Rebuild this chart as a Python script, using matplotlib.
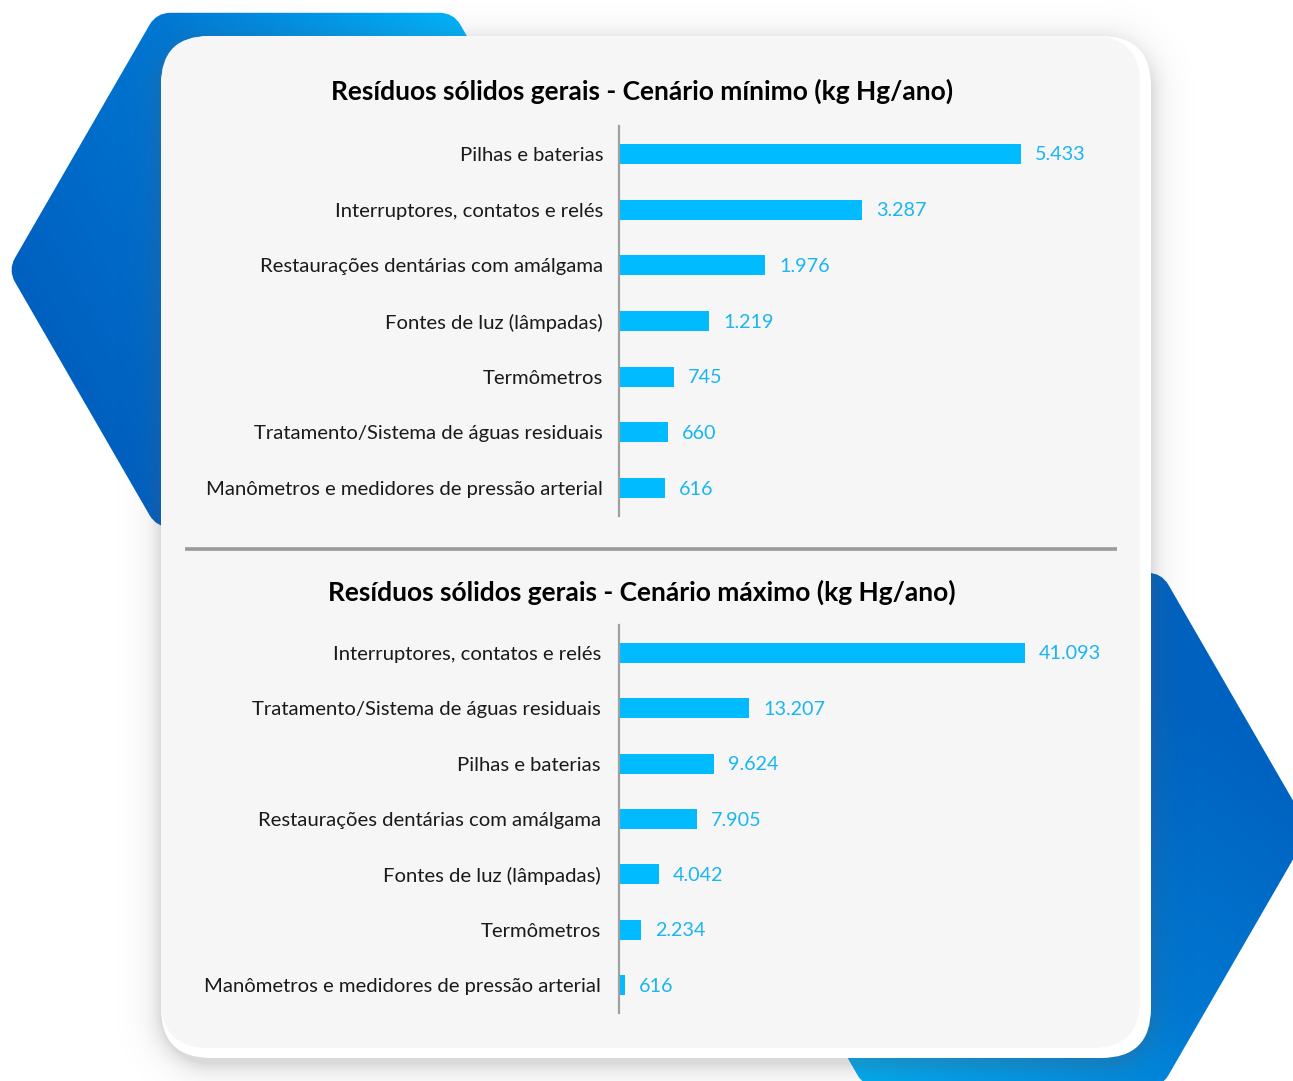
import numpy as np
import matplotlib
matplotlib.use("Agg")
import matplotlib.pyplot as plt
from matplotlib.path import Path
from matplotlib.patches import PathPatch, FancyBboxPatch
from matplotlib.colors import LinearSegmentedColormap

plt.rcParams["font.family"] = ["Lato", "DejaVu Sans"]

# Dados (kg Hg/ano)
cats_min = ["Pilhas e baterias", "Interruptores, contatos e relés",
            "Restaurações dentárias com amálgama", "Fontes de luz (lâmpadas)",
            "Termômetros", "Tratamento/Sistema de águas residuais",
            "Manômetros e medidores de pressão arterial"]
vals_min = [5433, 3287, 1976, 1219, 745, 660, 616]

cats_max = ["Interruptores, contatos e relés", "Tratamento/Sistema de águas residuais",
            "Pilhas e baterias", "Restaurações dentárias com amálgama",
            "Fontes de luz (lâmpadas)", "Termômetros",
            "Manômetros e medidores de pressão arterial"]
vals_max = [41093, 13207, 9624, 7905, 4042, 2234, 616]

titulo_min = "Resíduos sólidos gerais - Cenário mínimo (kg Hg/ano)"
titulo_max = "Resíduos sólidos gerais - Cenário máximo (kg Hg/ano)"

W, H = 1293, 1081
BAR = "#00bbff"
VAL = "#19b6f2"

fig = plt.figure(figsize=(W / 100, H / 100), dpi=100)
fig.patch.set_facecolor("white")

bg = fig.add_axes([0, 0, 1, 1])
bg.set_xlim(0, W)
bg.set_ylim(H, 0)
bg.axis("off")


def hexagono(cx, cy, R, raio=14):
    ang = np.deg2rad([180, 120, 60, 0, -60, -120])
    pts = np.c_[cx + R * np.cos(ang), cy - R * np.sin(ang)]
    verts, codes = [], []
    n = len(pts)
    for i in range(n):
        p, v, q = pts[i - 1], pts[i], pts[(i + 1) % n]
        a = v + (p - v) / np.linalg.norm(p - v) * raio
        b = v + (q - v) / np.linalg.norm(q - v) * raio
        verts += [a, v, b]
        codes += [Path.MOVETO if i == 0 else Path.LINETO, Path.CURVE3, Path.CURVE3]
    verts.append(verts[0])
    codes.append(Path.CLOSEPOLY)
    return Path(verts, codes)


def gradiente(path, cores, direcao, origem, comp, z):
    xx, yy = np.meshgrid(np.arange(W) + 0.5, np.arange(H) + 0.5)
    t = ((xx - origem[0]) * direcao[0] + (yy - origem[1]) * direcao[1]) / comp
    t = np.clip(t, 0, 1)
    cmap = LinearSegmentedColormap.from_list("g", cores)
    im = bg.imshow(cmap(t), extent=(0, W, H, 0), zorder=z, interpolation="bilinear")
    patch = PathPatch(path, facecolor="none", edgecolor="none", transform=bg.transData)
    bg.add_patch(patch)
    im.set_clip_path(patch)


# hexágonos de fundo
hex_esq = hexagono(305, 270, 297)
gradiente(hex_esq, ["#0060c0", "#0078d4", "#00b2fa"], (0.87, -0.5), (8, 270), 520, 1)
hex_dir = hexagono(1013, 830, 297)
gradiente(hex_dir, ["#00aaf2", "#0078d2", "#0062c0"], (0.6, -0.8), (860, 1080), 500, 1)

# sombra do cartão
x0, y0, x1, y1 = 161, 36, 1151, 1058
xx, yy = np.meshgrid(np.arange(W) + 0.5, np.arange(H) + 0.5)
cxr, cyr = (x0 + x1) / 2, (y0 + y1) / 2 + 6
hw, hh, r = (x1 - x0) / 2, (y1 - y0) / 2, 50
qx = np.abs(xx - cxr) - (hw - r)
qy = np.abs(yy - cyr) - (hh - r)
d = np.hypot(np.maximum(qx, 0), np.maximum(qy, 0)) + np.minimum(np.maximum(qx, qy), 0) - r
alpha = np.where(d > 0, 0.22 * np.exp(-d / 11), 0.22)
sombra = np.zeros((H, W, 4))
sombra[..., :3] = 0.35
sombra[..., 3] = alpha
bg.imshow(sombra, extent=(0, W, H, 0), zorder=2, interpolation="bilinear")

# cartão
bg.add_patch(FancyBboxPatch((x0, y0), x1 - x0, y1 - y0,
                            boxstyle="round,pad=0,rounding_size=50",
                            facecolor="white", edgecolor="none", zorder=3))
bg.add_patch(FancyBboxPatch((x0, y0), 1140 - x0, 1048 - y0,
                            boxstyle="round,pad=0,rounding_size=48",
                            facecolor="#f6f6f6", edgecolor="none", zorder=4))

# linha divisória
bg.plot([185, 1117], [549, 549], color="#9a9a9a", lw=2.6, zorder=5,
        solid_capstyle="butt")

bg.text(642, 91, titulo_min, ha="center", va="center", fontsize=19,
        fontweight="bold", color="black", zorder=6)
bg.text(642, 592, titulo_max, ha="center", va="center", fontsize=19,
        fontweight="bold", color="black", zorder=6)


def painel(l, t, r, b, cats, vals, xmax, pad):
    ax = fig.add_axes([l / W, 1 - b / H, (r - l) / W, (b - t) / H])
    ax.patch.set_alpha(0)
    y = np.arange(len(cats))
    ax.barh(y, vals, height=0.36, color=BAR)
    ax.set_ylim(len(cats) - 0.5, -0.5)
    ax.set_xlim(0, xmax)
    ax.set_yticks(y, cats)
    ax.set_xticks([])
    ax.tick_params(axis="y", length=0, pad=pad, labelsize=14.6, labelcolor="#1a1a1a")
    for s in ["top", "right", "bottom"]:
        ax.spines[s].set_visible(False)
    ax.spines["left"].set_color("#a0a0a0")
    ax.spines["left"].set_linewidth(1.6)
    for yi, v in zip(y, vals):
        ax.annotate(f"{v:,}".replace(",", "."), (v, yi), xytext=(14, -1),
                    textcoords="offset pixels", ha="left", va="center",
                    fontsize=14.2, color=VAL)
    return ax


painel(619, 126, 1100, 516, cats_min, vals_min, 6500, 11.5)
painel(619, 625, 1100, 1013, cats_max, vals_max, 48700, 13)

fig.savefig("out.png", dpi=100)
